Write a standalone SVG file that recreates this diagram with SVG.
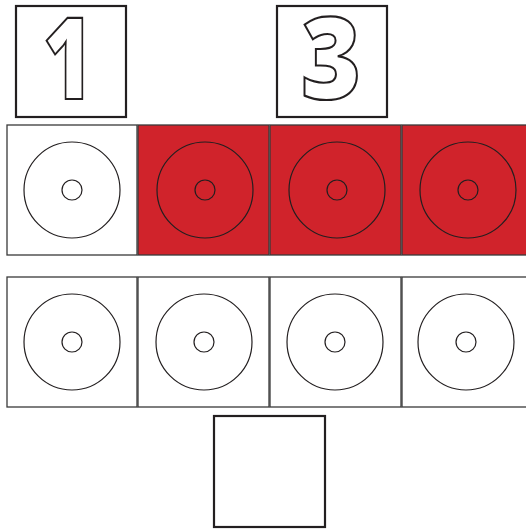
<svg xmlns="http://www.w3.org/2000/svg" width="526" height="529" viewBox="0 0 526 529">
<style>
.box{fill:#fff;stroke:#231f20;stroke-width:2.2}
.cell{fill:#fff;stroke:#3a3a3a;stroke-width:1.3}
.red{fill:#d0232b;stroke:#3a3a3a;stroke-width:1.3}
.disc{fill:none;stroke:#231f20;stroke-width:1.2}
.num{fill:#fff;stroke:#231f20;stroke-width:2.2;font-family:"Open Sans","Noto Sans",sans-serif;font-weight:800;font-size:114px;text-anchor:middle}
</style>
<rect width="526" height="529" fill="#fff"/>
<g id="label1">
<rect class="box" x="16" y="6" width="110" height="111"/>
<text class="num" x="0" y="99" transform="translate(68 0) scale(0.75 1)">1</text>
</g>
<g id="label3">
<rect class="box" x="277" y="6" width="110" height="111"/>
<text class="num" x="0" y="99" transform="translate(331 0) scale(0.9 1)">3</text>
</g>
<g id="r1c1"><rect class="cell" x="7" y="125" width="130" height="130"/><circle class="disc" cx="72" cy="190" r="48"/><circle class="disc" cx="72" cy="190" r="10"/></g>
<g id="r1c2"><rect class="red" x="138" y="125" width="131" height="130"/><circle class="disc" cx="205" cy="190" r="48"/><circle class="disc" cx="205" cy="190" r="10"/></g>
<g id="r1c3"><rect class="red" x="270" y="125" width="131" height="130"/><circle class="disc" cx="337" cy="190" r="48"/><circle class="disc" cx="337" cy="190" r="10"/></g>
<g id="r1c4"><rect class="red" x="402" y="125" width="130" height="130"/><circle class="disc" cx="468" cy="190" r="48"/><circle class="disc" cx="468" cy="190" r="10"/></g>
<g id="r2c1"><rect class="cell" x="7" y="277" width="130" height="130"/><circle class="disc" cx="72" cy="342" r="48"/><circle class="disc" cx="72" cy="342" r="10"/></g>
<g id="r2c2"><rect class="cell" x="138" y="277" width="131" height="130"/><circle class="disc" cx="204" cy="342" r="48"/><circle class="disc" cx="204" cy="342" r="10"/></g>
<g id="r2c3"><rect class="cell" x="270" y="277" width="131" height="130"/><circle class="disc" cx="335" cy="342" r="48"/><circle class="disc" cx="335" cy="342" r="10"/></g>
<g id="r2c4"><rect class="cell" x="402" y="277" width="130" height="130"/><circle class="disc" cx="466" cy="342" r="48"/><circle class="disc" cx="466" cy="342" r="10"/></g>
<g id="bottom"><rect class="box" x="214" y="416" width="111" height="111"/></g>
<g id="connectors"></g>
</svg>
